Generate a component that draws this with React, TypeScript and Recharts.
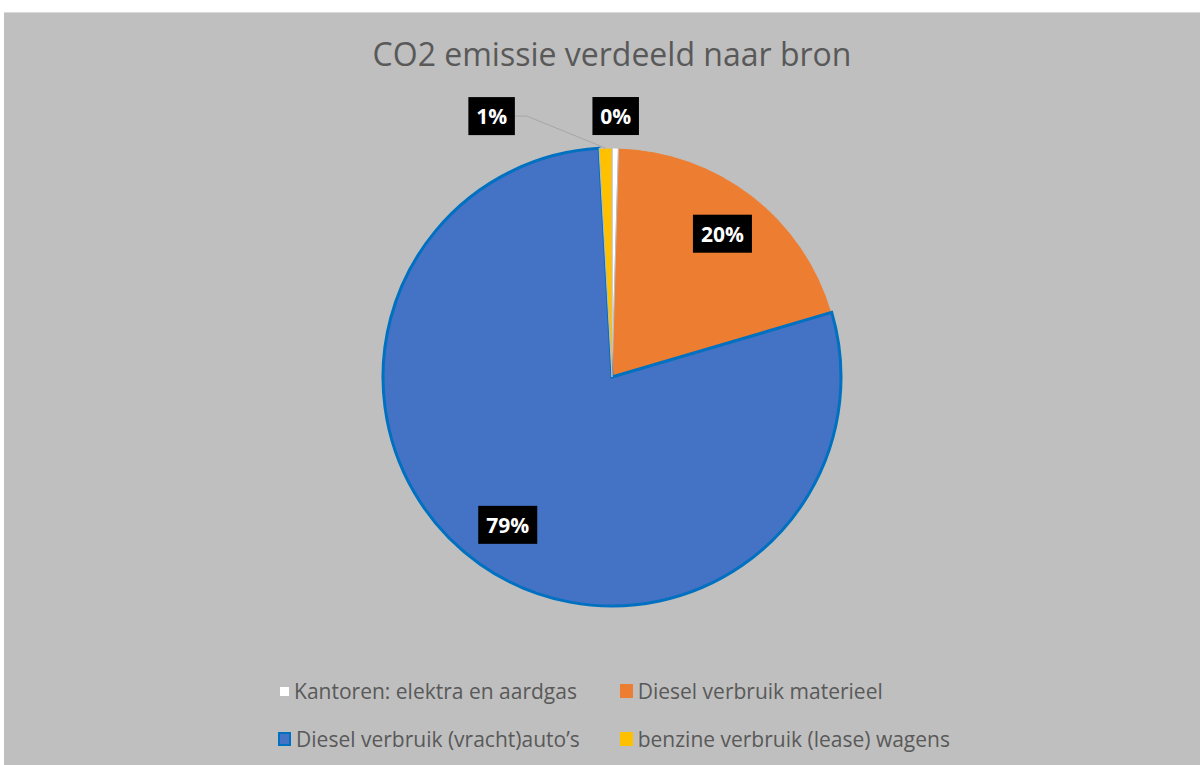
import React from 'react';
import { PieChart, Pie, Cell, Legend } from 'recharts';

const bronnen = [
  'Kantoren: elektra en aardgas',
  'Diesel verbruik materieel',
  'Diesel verbruik (vracht)auto\u2019s',
  'benzine verbruik (lease) wagens',
];
const aandeel = [0.45, 20.0, 78.65, 0.9];
const kleuren = ['#FFFFFF', '#ED7D31', '#4472C4', '#FFC000'];
const randen = ['#BFBFBF', '#BFBFBF', '#0070C0', '#BFBFBF'];

const data = bronnen.map((naam, i) => ({ naam, waarde: aandeel[i] }));

const RAD = Math.PI / 180;

function Label(p: any) {
  const { cx, cy, midAngle, outerRadius, percent, index } = p;
  const txt = `${Math.round(percent * 100)}%`;
  const inside = index === 1 || index === 2;
  const r = inside ? outerRadius * 0.79 : outerRadius + 32;
  let x = cx + r * Math.cos(-midAngle * RAD);
  const y = cy + r * Math.sin(-midAngle * RAD);
  const shift = index === 3 ? -113 : 0;
  x += shift;
  const w = (txt.length - 1) * 12.5 + 18 + 16;
  const h = 38;
  const edgeX = cx + outerRadius * Math.cos(-midAngle * RAD);
  const edgeY = cy + outerRadius * Math.sin(-midAngle * RAD);
  return (
    <g>
      {shift !== 0 && (
        <polyline
          points={`${x + w / 2},${y} ${x + w / 2 + 12},${y} ${edgeX},${edgeY}`}
          fill="none"
          stroke="#A6A6A6"
          strokeWidth={1}
        />
      )}
      <rect x={x - w / 2} y={y - h / 2} width={w} height={h} fill="#000000" />
      <text
        x={x}
        y={y}
        textAnchor="middle"
        dominantBaseline="central"
        fill="#FFFFFF"
        fontFamily="'Open Sans', sans-serif"
        fontWeight={700}
        fontSize={21}
      >
        {txt}
      </text>
    </g>
  );
}

function LegendBox() {
  return (
    <div
      style={{
        display: 'grid',
        gridTemplateColumns: 'auto auto',
        columnGap: 40,
        rowGap: 22,
        justifyContent: 'center',
        fontFamily: "'Open Sans', sans-serif",
        fontSize: 21,
        color: '#595959',
        lineHeight: '26px',
        paddingLeft: 24,
      }}
    >
      {bronnen.map((naam, i) => (
        <div key={naam} style={{ display: 'flex', alignItems: 'center', whiteSpace: 'nowrap' }}>
          <span
            style={{
              display: 'inline-block',
              width: i === 0 ? 9 : 13,
              height: i === 0 ? 9 : 14,
              background: kleuren[i],
              border: i === 2 ? '2px solid #0070C0' : 'none',
              boxSizing: 'border-box',
              marginRight: 5,
              marginLeft: i === 0 ? 2 : 0,
            }}
          />
          {naam}
        </div>
      ))}
    </div>
  );
}

export default function App() {
  return (
    <div style={{ position: 'absolute', left: 0, top: 0, width: 1200, height: 765, background: '#FFFFFF', overflow: 'hidden' }}>
      <div
        style={{
          position: 'absolute',
          left: 4,
          top: 12,
          width: 1196,
          height: 753,
          background: '#BFBFBF',
          borderTop: '1px solid #D9D9D9',
          boxSizing: 'border-box',
        }}
      >
        <div
          style={{
            position: 'absolute',
            left: 0,
            top: 19,
            width: 1216,
            textAlign: 'center',
            fontFamily: "'Open Sans', sans-serif",
            fontSize: 32,
            color: '#595959',
          }}
        >
          CO2 emissie verdeeld naar bron
        </div>
        <PieChart width={1196} height={752} margin={{ top: 0, right: 0, bottom: 0, left: 0 }}>
          <Pie
            data={data}
            dataKey="waarde"
            nameKey="naam"
            cx={608}
            cy={364}
            outerRadius={229}
            startAngle={90}
            endAngle={-270}
            label={Label}
            labelLine={false}
            isAnimationActive={false}
          >
            {data.map((d, i) => (
              <Cell key={d.naam} fill={kleuren[i]} stroke={randen[i]} strokeWidth={i === 2 ? 3 : 1} />
            ))}
          </Pie>
          <Legend verticalAlign="bottom" content={<LegendBox />} wrapperStyle={{ bottom: 13 }} />
        </PieChart>
      </div>
    </div>
  );
}
